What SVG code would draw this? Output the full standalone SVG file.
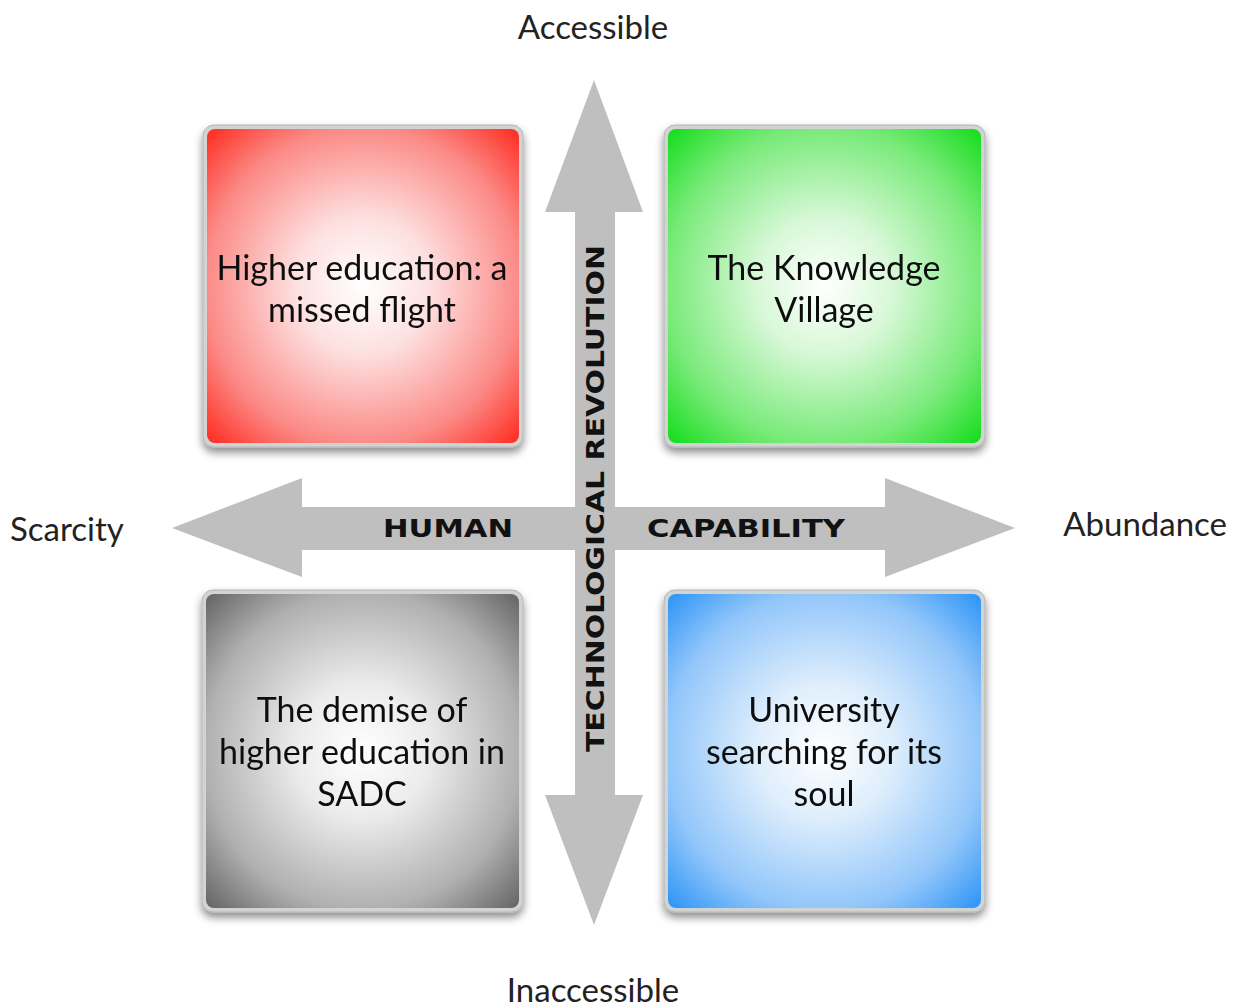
<svg xmlns="http://www.w3.org/2000/svg" width="1238" height="1008" viewBox="0 0 1238 1008">
  <defs>
    <radialGradient id="gRed" cx="0.5" cy="0.5" r="0.72">
      <stop offset="0" stop-color="#ffffff"/>
      <stop offset="0.3" stop-color="#fde0e0"/>
      <stop offset="0.7" stop-color="#fb8a86"/>
      <stop offset="1" stop-color="#ff2418"/>
    </radialGradient>
    <radialGradient id="gGreen" cx="0.5" cy="0.5" r="0.72">
      <stop offset="0" stop-color="#ffffff"/>
      <stop offset="0.3" stop-color="#d8f8d8"/>
      <stop offset="0.7" stop-color="#78ea78"/>
      <stop offset="1" stop-color="#0cdc14"/>
    </radialGradient>
    <radialGradient id="gGray" cx="0.5" cy="0.5" r="0.72">
      <stop offset="0" stop-color="#ffffff"/>
      <stop offset="0.3" stop-color="#ebebeb"/>
      <stop offset="0.7" stop-color="#b0b0b0"/>
      <stop offset="1" stop-color="#5e5e5e"/>
    </radialGradient>
    <radialGradient id="gBlue" cx="0.5" cy="0.5" r="0.72">
      <stop offset="0" stop-color="#ffffff"/>
      <stop offset="0.3" stop-color="#deeefc"/>
      <stop offset="0.7" stop-color="#92c6fa"/>
      <stop offset="1" stop-color="#2490f6"/>
    </radialGradient>
    <filter id="shadow" x="-10%" y="-10%" width="120%" height="125%">
      <feDropShadow dx="0" dy="5" stdDeviation="4" flood-color="#000" flood-opacity="0.45"/>
    </filter>
  </defs>
  <style>
    .frame { fill: #d2d4d4; stroke: #b4b6b6; stroke-width: 1; }
    .arrow { fill: #bfbfbf; }
    .axis { font-family: "Lato", "Open Sans", sans-serif; font-size: 33px; fill: #222; }
    .node { font-family: "Lato", "Open Sans", sans-serif; font-size: 34px; fill: #111; text-anchor: middle; }
    .tag { font-family: "DejaVu Sans", "Open Sans", sans-serif; font-weight: bold; font-size: 24px; fill: #111; }
  </style>

  <rect width="1238" height="1008" fill="#ffffff"/>

  <!-- axis arrows -->
  <g id="connectors">
    <polygon class="arrow" points="594,80 643,212 615,212 615,795 643,795 594,925 545,795 575,795 575,212 545,212"/>
    <polygon class="arrow" points="172,528 302,478 302,507 885,507 885,478 1015,528 885,577 885,550 302,550 302,577"/>
    <text class="tag" x="383" y="537" textLength="130" lengthAdjust="spacingAndGlyphs">HUMAN</text>
    <text class="tag" x="647" y="537" textLength="198" lengthAdjust="spacingAndGlyphs">CAPABILITY</text>
    <text class="tag" transform="translate(604,752) rotate(-90)" x="0" y="0" textLength="507" lengthAdjust="spacingAndGlyphs">TECHNOLOGICAL REVOLUTION</text>
  </g>

  <!-- axis end labels -->
  <text class="axis" x="593" y="39" text-anchor="middle">Accessible</text>
  <text class="axis" x="593" y="1002" text-anchor="middle">Inaccessible</text>
  <text class="axis" x="10" y="541">Scarcity</text>
  <text class="axis" x="1227" y="536" text-anchor="end">Abundance</text>

  <!-- quadrant nodes -->
  <g id="node-missed-flight" filter="url(#shadow)">
    <rect class="frame" x="203" y="125" width="320" height="322" rx="11"/>
    <rect x="207" y="129" width="312" height="314" rx="8" fill="url(#gRed)"/>
    <text class="node" x="362" y="280">Higher education: a</text>
    <text class="node" x="362" y="322">missed flight</text>
  </g>

  <g id="node-knowledge-village" filter="url(#shadow)">
    <rect class="frame" x="664" y="125" width="321" height="322" rx="11"/>
    <rect x="668" y="129" width="313" height="314" rx="8" fill="url(#gGreen)"/>
    <text class="node" x="824" y="280">The Knowledge</text>
    <text class="node" x="824" y="322">Village</text>
  </g>

  <g id="node-demise" filter="url(#shadow)">
    <rect class="frame" x="202" y="590" width="321" height="322" rx="11"/>
    <rect x="206" y="594" width="313" height="314" rx="8" fill="url(#gGray)"/>
    <text class="node" x="362" y="722">The demise of</text>
    <text class="node" x="362" y="764">higher education in</text>
    <text class="node" x="362" y="806">SADC</text>
  </g>

  <g id="node-soul" filter="url(#shadow)">
    <rect class="frame" x="664" y="590" width="321" height="322" rx="11"/>
    <rect x="668" y="594" width="313" height="314" rx="8" fill="url(#gBlue)"/>
    <text class="node" x="824" y="722">University</text>
    <text class="node" x="824" y="764">searching for its</text>
    <text class="node" x="824" y="806">soul</text>
  </g>
</svg>
